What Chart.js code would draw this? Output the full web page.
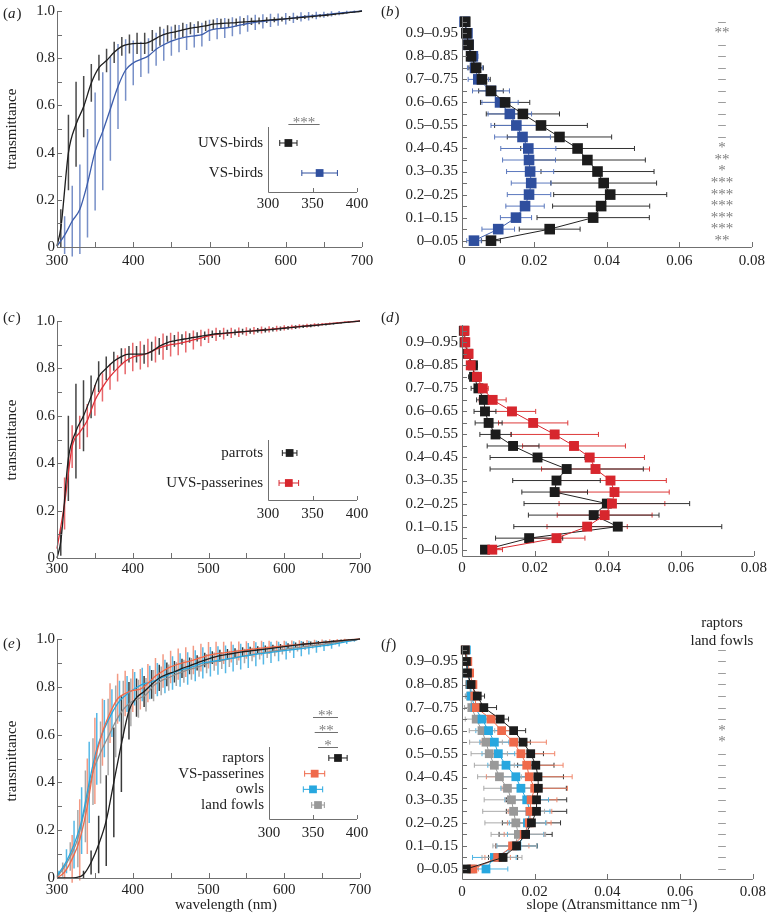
<!DOCTYPE html>
<html>
<head>
<meta charset="utf-8">
<script src="https://cdn.jsdelivr.net/npm/chart.js"></script>
<style>
  body { margin: 0; background: #fff; }
  #wrap { position: relative; width: 770px; height: 913px; }
  #wrap canvas { position: absolute; left: 0; top: 0; }
</style>
</head>
<body>
<div id="wrap">
  <canvas id="pa" width="770" height="913"></canvas>
  <canvas id="pai" width="770" height="913"></canvas>
  <canvas id="pb" width="770" height="913"></canvas>
  <canvas id="pc" width="770" height="913"></canvas>
  <canvas id="pci" width="770" height="913"></canvas>
  <canvas id="pd" width="770" height="913"></canvas>
  <canvas id="pe" width="770" height="913"></canvas>
  <canvas id="pei" width="770" height="913"></canvas>
  <canvas id="pf" width="770" height="913"></canvas>
</div>
<script>
// ---- data ----
// wavelength samples (nm); groups are sampled on shifted grids so their bars interleave
const wl10 = [300,310,320,330,340,350,360,370,380,390,400,410,420,430,440,450,460,470,480,490,500,510,520,530,540,550,560,570,580,590,600,610,620,630,640,650,660,670,680,690,700];
const wl05 = [300,305,315,325,335,345,355,365,375,385,395,405,415,425,435,445,455,465,475,485,495,505,515,525,535,545,555,565,575,585,595,605,615,625,635,645,655,665,675,685,695,700];
const wl02 = [300,302.5,312.5,322.5,332.5,342.5,352.5,362.5,372.5,382.5,392.5,402.5,412.5,422.5,432.5,442.5,452.5,462.5,472.5,482.5,492.5,502.5,512.5,522.5,532.5,542.5,552.5,562.5,572.5,582.5,592.5,602.5,612.5,622.5,632.5,642.5,652.5,662.5,672.5,682.5,692.5,700];
const wl07 = [300,307.5,317.5,327.5,337.5,347.5,357.5,367.5,377.5,387.5,397.5,407.5,417.5,427.5,437.5,447.5,457.5,467.5,477.5,487.5,497.5,507.5,517.5,527.5,537.5,547.5,557.5,567.5,577.5,587.5,597.5,607.5,617.5,627.5,637.5,647.5,657.5,667.5,677.5,687.5,697.5,700];

// (a) transmittance, mean and sd
const aUVS = [0.005,0.08,0.40,0.52,0.595,0.695,0.76,0.79,0.825,0.85,0.86,0.863,0.863,0.875,0.893,0.905,0.912,0.92,0.927,0.932,0.937,0.944,0.947,0.949,0.951,0.954,0.956,0.958,0.961,0.963,0.966,0.969,0.971,0.974,0.977,0.980,0.983,0.987,0.990,0.994,0.997,1.0];
const aUVSsd = [0,0.08,0.16,0.18,0.13,0.08,0.055,0.05,0.045,0.04,0.04,0.045,0.045,0.045,0.04,0.035,0.03,0.03,0.025,0.025,0.022,0.02,0.02,0.018,0.017,0.016,0.015,0.014,0.012,0.011,0.01,0.01,0.009,0.008,0.008,0.007,0.006,0.005,0.004,0.003,0.002,0];
const aVS = [0.003,0.05,0.11,0.16,0.27,0.405,0.49,0.585,0.68,0.75,0.78,0.795,0.81,0.838,0.857,0.872,0.883,0.89,0.895,0.9,0.918,0.925,0.928,0.933,0.94,0.947,0.952,0.956,0.96,0.963,0.967,0.971,0.975,0.978,0.981,0.984,0.988,0.991,0.994,0.997,1.0];
const aVSsd = [0,0.08,0.15,0.19,0.23,0.25,0.25,0.22,0.18,0.13,0.095,0.075,0.075,0.07,0.068,0.062,0.058,0.055,0.05,0.05,0.045,0.045,0.042,0.04,0.038,0.035,0.032,0.03,0.028,0.026,0.024,0.022,0.02,0.018,0.016,0.013,0.011,0.009,0.007,0.005,0];

// (c)
const cPar = [0.0,0.07,0.42,0.535,0.6,0.68,0.765,0.8,0.83,0.85,0.86,0.86,0.86,0.872,0.893,0.908,0.916,0.922,0.928,0.933,0.938,0.944,0.947,0.95,0.952,0.955,0.957,0.96,0.962,0.965,0.968,0.971,0.974,0.977,0.98,0.983,0.986,0.989,0.992,0.995,0.998,1.0];
const cParSd = [0,0.06,0.18,0.2,0.15,0.09,0.065,0.05,0.04,0.035,0.035,0.035,0.04,0.04,0.035,0.03,0.025,0.022,0.02,0.02,0.018,0.016,0.014,0.013,0.012,0.012,0.011,0.01,0.01,0.009,0.009,0.008,0.008,0.007,0.006,0.006,0.005,0.004,0.003,0.003,0.002,0];
const cUVSp = [0.04,0.23,0.47,0.53,0.58,0.665,0.72,0.765,0.8,0.83,0.848,0.855,0.865,0.88,0.892,0.9,0.905,0.912,0.92,0.928,0.937,0.944,0.947,0.95,0.953,0.956,0.959,0.962,0.965,0.968,0.971,0.974,0.977,0.98,0.983,0.986,0.989,0.992,0.995,0.997,1.0];
const cUVSpSd = [0,0.11,0.09,0.07,0.07,0.065,0.06,0.055,0.055,0.055,0.06,0.06,0.06,0.055,0.055,0.05,0.05,0.045,0.04,0.035,0.03,0.028,0.025,0.022,0.02,0.018,0.016,0.015,0.013,0.012,0.011,0.01,0.009,0.008,0.007,0.006,0.005,0.004,0.003,0.002,0];

// (e)
const eRap = [0,0,0,0.002,0.015,0.065,0.14,0.24,0.4,0.56,0.7,0.755,0.78,0.81,0.837,0.852,0.863,0.877,0.888,0.9,0.912,0.922,0.93,0.936,0.941,0.946,0.95,0.954,0.958,0.962,0.966,0.97,0.974,0.978,0.981,0.984,0.987,0.99,0.993,0.996,0.998,1.0];
const eRapSd = [0,0,0,0.002,0.015,0.05,0.12,0.19,0.23,0.2,0.12,0.08,0.065,0.06,0.055,0.05,0.045,0.04,0.035,0.032,0.03,0.027,0.025,0.022,0.02,0.019,0.018,0.016,0.015,0.014,0.013,0.012,0.011,0.01,0.009,0.008,0.007,0.006,0.005,0.004,0.002,0];
const eVSp = [0,0.025,0.08,0.16,0.3,0.49,0.61,0.69,0.75,0.772,0.785,0.79,0.815,0.845,0.866,0.883,0.895,0.903,0.912,0.922,0.932,0.938,0.942,0.946,0.95,0.954,0.958,0.962,0.965,0.968,0.971,0.974,0.977,0.98,0.983,0.986,0.989,0.992,0.995,0.997,1.0];
const eVSpSd = [0,0.03,0.1,0.17,0.2,0.18,0.14,0.125,0.105,0.095,0.09,0.085,0.08,0.075,0.07,0.068,0.065,0.062,0.06,0.058,0.055,0.05,0.047,0.044,0.04,0.037,0.034,0.031,0.028,0.025,0.022,0.02,0.018,0.016,0.014,0.012,0.01,0.008,0.006,0.004,0];
const eOwl = [0.01,0.02,0.07,0.14,0.24,0.4,0.54,0.625,0.69,0.74,0.77,0.792,0.81,0.818,0.83,0.843,0.858,0.87,0.877,0.888,0.9,0.905,0.91,0.915,0.92,0.926,0.931,0.936,0.94,0.944,0.948,0.952,0.956,0.96,0.964,0.968,0.972,0.977,0.983,0.989,0.995,1.0];
const eOwlSd = [0,0.01,0.05,0.1,0.14,0.17,0.15,0.12,0.1,0.085,0.075,0.07,0.07,0.07,0.07,0.07,0.07,0.07,0.068,0.065,0.065,0.062,0.06,0.058,0.056,0.054,0.052,0.05,0.047,0.044,0.041,0.038,0.035,0.032,0.029,0.026,0.022,0.018,0.014,0.01,0.006,0];
const eFowl = [0.005,0.035,0.09,0.165,0.3,0.445,0.525,0.59,0.655,0.705,0.735,0.75,0.767,0.805,0.825,0.838,0.853,0.865,0.875,0.884,0.897,0.905,0.91,0.917,0.923,0.929,0.935,0.94,0.945,0.95,0.955,0.96,0.964,0.968,0.972,0.976,0.98,0.985,0.99,0.994,0.998,1.0];
const eFowlSd = [0,0.03,0.06,0.12,0.15,0.14,0.13,0.16,0.15,0.12,0.1,0.08,0.07,0.065,0.06,0.055,0.05,0.048,0.045,0.042,0.04,0.038,0.036,0.034,0.032,0.03,0.028,0.026,0.024,0.022,0.02,0.018,0.016,0.014,0.012,0.011,0.01,0.008,0.006,0.004,0.002,0];

// transmittance bins for the slope panels, bottom to top
const bins = ['0–0.05','0.05–0.1','0.1–0.15','0.15–0.2','0.2–0.25','0.25–0.3','0.3–0.35','0.35–0.4','0.4–0.45','0.45–0.5','0.5–0.55','0.55–0.6','0.6–0.65','0.65–0.7','0.7–0.75','0.75–0.8','0.8–0.85','0.85–0.9','0.9–0.95','0.95–1'];

// (b) slope per bin
const bUVS = [0.008,0.0242,0.0362,0.0384,0.0409,0.0391,0.0374,0.0346,0.0319,0.0269,0.0218,0.0168,0.0119,0.008,0.0055,0.0039,0.0025,0.0018,0.0012,0.0009];
const bUVSerr = [0.0026,0.0084,0.0155,0.0134,0.0156,0.0146,0.0156,0.016,0.0157,0.0144,0.0128,0.0101,0.0068,0.0034,0.0023,0.002,0.001,0.0008,0.0005,0.0003];
const bVS = [0.0033,0.01,0.0149,0.0174,0.0185,0.0191,0.0188,0.0185,0.0183,0.0167,0.015,0.0132,0.0105,0.008,0.0045,0.0036,0.003,0.0018,0.0015,0.0007];
const bVSerr = [0.002,0.0045,0.0043,0.0053,0.006,0.0055,0.0065,0.0073,0.0076,0.0077,0.007,0.006,0.005,0.0051,0.0028,0.0021,0.0014,0.0008,0.0005,0.0003];
const bSig = ['**','***','***','***','***','***','*','**','*','–','–','–','–','–','–','–','–','–','**','–'];

// (d)
const dUVSp = [0.0083,0.0259,0.0343,0.0391,0.0411,0.0418,0.0407,0.0366,0.035,0.0307,0.0254,0.0195,0.0137,0.0084,0.0057,0.0041,0.0024,0.0018,0.0009,0.0007];
const dUVSpErr = [0.0028,0.0078,0.011,0.013,0.0145,0.015,0.0153,0.0148,0.015,0.0141,0.012,0.0095,0.0065,0.0037,0.0015,0.0012,0.0008,0.0006,0.0004,0.0003];
const dPar = [0.0063,0.0184,0.0427,0.0361,0.0397,0.0254,0.0259,0.0287,0.0207,0.014,0.0092,0.0073,0.0063,0.006,0.0045,0.0033,0.003,0.0016,0.0007,0.0005];
const dParErr = [0.001,0.0092,0.0285,0.0179,0.0227,0.009,0.012,0.021,0.013,0.0071,0.0043,0.0037,0.003,0.002,0.002,0.0015,0.0012,0.0005,0.0003,0.0002];

// (f)
const fRap = [0.0012,0.0113,0.015,0.0175,0.0191,0.0205,0.0205,0.021,0.0209,0.0203,0.0189,0.0168,0.0142,0.0105,0.006,0.0042,0.0025,0.0015,0.0012,0.0009];
const fRapErr = [0.001,0.004,0.0057,0.0073,0.008,0.0083,0.0083,0.0077,0.007,0.005,0.0035,0.002,0.0033,0.0023,0.0035,0.002,0.001,0.0004,0.0003,0.0002];
const fVSp = [0.003,0.0098,0.0139,0.0171,0.0185,0.0187,0.019,0.02,0.0185,0.0178,0.0162,0.0142,0.0109,0.008,0.0039,0.0035,0.003,0.0021,0.0016,0.0009];
const fVSpErr = [0.0015,0.0035,0.0045,0.0055,0.006,0.006,0.0071,0.009,0.0118,0.01,0.0093,0.009,0.004,0.003,0.002,0.0015,0.001,0.0005,0.0003,0.0002];
const fOwl = [0.0066,0.0089,0.0151,0.0175,0.018,0.0187,0.0178,0.0162,0.0148,0.0121,0.01,0.0089,0.0073,0.0055,0.0036,0.0025,0.0024,0.0016,0.0015,0.0012];
const fOwlErr = [0.006,0.006,0.0055,0.005,0.005,0.0055,0.006,0.0055,0.005,0.005,0.0045,0.004,0.0035,0.0025,0.0018,0.0015,0.0008,0.0004,0.0003,0.0002];
const fFowl = [0.0025,0.011,0.0145,0.0155,0.0148,0.0142,0.0136,0.0125,0.0103,0.0089,0.0075,0.0066,0.0055,0.0039,0.0027,0.0024,0.0021,0.0015,0.0012,0.0009];
const fFowlErr = [0.0015,0.0055,0.006,0.0075,0.0085,0.0085,0.0075,0.0065,0.006,0.0055,0.005,0.0045,0.0035,0.003,0.002,0.0015,0.001,0.0005,0.0003,0.0002];
const fSig = ['–','–','–','–','–','–','–','–','–','–','–','*','*','–','–','–','–','–','–','–'];

// insets: wavelength at 50% transmittance (nm), listed top to bottom
const insA = ['UVS-birds', 'VS-birds'];
const insAmean = [322.9, 358.0];
const insAerr = [9.7, 20.0];
const insC = ['parrots', 'UVS-passerines'];
const insCmean = [324.3, 323.4];
const insCerr = [8.2, 11.0];
const insE = ['raptors', 'VS-passerines', 'owls', 'land fowls'];
const insEmean = [378.4, 351.9, 350.0, 355.7];
const insEerr = [10.4, 11.4, 11.0, 7.2];

// tick labels
const transTicks = [0, 0.2, 0.4, 0.6, 0.8, 1.0];
const transLabels = ['0', '0.2', '0.4', '0.6', '0.8', '1.0'];
const wlTicks = [300, 400, 500, 600, 700];
const slopeTicks = [0, 0.02, 0.04, 0.06, 0.08];
const slopeLabels = ['0', '0.02', '0.04', '0.06', '0.08'];
const insetTicks = [300, 350, 400];

// ---- drawing ----
const W = 770, H = 913;
const SERIF = '"Liberation Serif", "DejaVu Serif", serif';
const AXIS = '#707070';
const INK = '#222';
const SIG = '#7d7d7d';
Chart.defaults.font.family = SERIF;
Chart.defaults.font.size = 15;
Chart.defaults.color = INK;

function near(list, v) {
  return list.findIndex(t => Math.abs(t - v) < 1e-6);
}

// axis lines plus short inward tick marks
function frame(xt, yt) {
  return {
    id: 'frame',
    afterDatasetsDraw(chart) {
      const { ctx, chartArea: ca, scales: { x, y } } = chart;
      ctx.save();
      ctx.strokeStyle = AXIS;
      ctx.lineWidth = 1;
      ctx.beginPath();
      ctx.moveTo(ca.left + 0.5, ca.top);
      ctx.lineTo(ca.left + 0.5, ca.bottom + 0.5);
      ctx.lineTo(ca.right, ca.bottom + 0.5);
      if (xt) x.ticks.forEach(t => {
        const p = Math.round(x.getPixelForValue(t.value)) + 0.5;
        ctx.moveTo(p, ca.bottom);
        ctx.lineTo(p, ca.bottom - xt);
      });
      if (yt) y.ticks.forEach(t => {
        const p = Math.round(y.getPixelForValue(t.value)) + 0.5;
        ctx.moveTo(ca.left, p);
        ctx.lineTo(ca.left + yt, p);
      });
      ctx.stroke();
      ctx.restore();
    }
  };
}

// error bars from ds.err, along the x or y axis
function errBars(dir, cap) {
  return {
    id: 'errBars',
    beforeDatasetsDraw(chart) {
      const ctx = chart.ctx;
      const sc = chart.scales[dir];
      chart.data.datasets.forEach((ds, di) => {
        if (!ds.err) return;
        const pts = chart.getDatasetMeta(di).data;
        ctx.save();
        ctx.strokeStyle = ds.errColor;
        ctx.lineWidth = ds.errWidth || 1;
        ctx.beginPath();
        ds.data.forEach((d, i) => {
          const e = ds.err[i];
          if (!e) return;
          const a = sc.getPixelForValue(d[dir] - e), b = sc.getPixelForValue(d[dir] + e);
          const p = pts[i];
          if (dir === 'x') {
            ctx.moveTo(a, p.y); ctx.lineTo(b, p.y);
            if (cap) {
              ctx.moveTo(a, p.y - cap); ctx.lineTo(a, p.y + cap);
              ctx.moveTo(b, p.y - cap); ctx.lineTo(b, p.y + cap);
            }
          } else {
            ctx.moveTo(p.x, a); ctx.lineTo(p.x, b);
          }
        });
        ctx.stroke();
        ctx.restore();
      });
    }
  };
}

// free text: panel letters, axis titles, significance columns
function notes(items) {
  return {
    id: 'notes',
    afterDraw(chart) {
      const ctx = chart.ctx;
      items.forEach(it => {
        const y = it.row !== undefined ? chart.scales.y.getPixelForValue(it.row) : it.y;
        ctx.save();
        ctx.fillStyle = it.color || INK;
        ctx.textBaseline = 'middle';
        if (it.parts) {
          let cx = it.x;
          ctx.textAlign = 'left';
          it.parts.forEach(([s, ital]) => {
            ctx.font = (ital ? 'italic ' : '') + '15px ' + SERIF;
            ctx.fillText(s, cx, y);
            cx += ctx.measureText(s).width + (ital ? 1 : 0);
          });
        } else {
          ctx.font = '15px ' + SERIF;
          ctx.textAlign = it.align || 'center';
          ctx.translate(it.x, y);
          if (it.rot) ctx.rotate(it.rot);
          ctx.fillText(it.t, 0, 0);
        }
        ctx.restore();
      });
    }
  };
}

function sigLines(list, means) {
  return {
    id: 'sig',
    afterDraw(chart) {
      const { ctx, scales: { x, y } } = chart;
      ctx.save();
      ctx.strokeStyle = AXIS;
      ctx.fillStyle = SIG;
      ctx.lineWidth = 1;
      ctx.font = '15px ' + SERIF;
      ctx.textAlign = 'center';
      ctx.textBaseline = 'alphabetic';
      list.forEach(s => {
        const x1 = x.getPixelForValue(means[s.a]), x2 = x.getPixelForValue(means[s.b]);
        const py = Math.round(y.getPixelForValue(s.lvl)) + 0.5;
        ctx.beginPath(); ctx.moveTo(x1, py); ctx.lineTo(x2, py); ctx.stroke();
        ctx.fillText(s.t, (x1 + x2) / 2, py + 2);
      });
      ctx.restore();
    }
  };
}

const panel = (letter, x, y) => ({ parts: [['(', false], [letter, true], [')', false]], x, y });
const noGrid = { display: false, drawTicks: false };

function base(area) {
  return {
    responsive: false, animation: false, devicePixelRatio: 1,
    layout: { padding: { left: 0, top: area.t, right: W - area.r, bottom: 0 } },
    plugins: { legend: { display: false }, tooltip: { enabled: false } }
  };
}

function curveChart(id, area, series, texts) {
  const opts = base(area);
  opts.scales = {
    x: {
      type: 'linear', min: 300, max: 700,
      grid: noGrid, border: { display: false },
      ticks: { stepSize: 50, autoSkip: false, maxRotation: 0, padding: area.xpad,
               callback: v => near(wlTicks, v) < 0 ? '' : String(v) },
      afterFit: s => { s.height = H - area.b; }
    },
    y: {
      type: 'linear', min: 0, max: 1,
      grid: noGrid, border: { display: false },
      ticks: { stepSize: 0.1, autoSkip: false, padding: 2,
               callback: v => { const i = near(transTicks, v); return i < 0 ? '' : transLabels[i]; } },
      afterFit: s => { s.width = area.l; }
    }
  };
  return new Chart(document.getElementById(id), {
    type: 'line',
    data: { datasets: series.map(s => ({
      data: s.wl.map((w, i) => ({ x: w, y: s.val[i] })),
      err: s.sd, errColor: s.bar, errWidth: 1.5,
      borderColor: s.color, borderWidth: 1.3, pointRadius: 0,
      cubicInterpolationMode: 'monotone', clip: false
    })) },
    options: opts,
    plugins: [errBars('y', 0), frame(5, 5), notes(texts)]
  });
}

function slopeChart(id, area, series, texts) {
  const opts = base(area);
  opts.scales = {
    x: {
      type: 'linear', min: 0, max: 0.08,
      grid: noGrid, border: { display: false },
      ticks: { stepSize: 0.02, autoSkip: false, maxRotation: 0, padding: area.xpad,
               callback: v => { const i = near(slopeTicks, v); return i < 0 ? '' : slopeLabels[i]; } },
      afterFit: s => { s.height = H - area.b; }
    },
    y: {
      type: 'linear', min: area.ymin, max: area.ymax,
      grid: noGrid, border: { display: false },
      afterBuildTicks: s => { s.ticks = bins.map((b, i) => ({ value: i })); },
      ticks: { autoSkip: false, padding: 4, callback: v => (v % 2 === 0 ? bins[v] : '') },
      afterFit: s => { s.width = area.l; }
    }
  };
  return new Chart(document.getElementById(id), {
    type: 'line',
    data: { datasets: series.map(s => ({
      data: s.val.map((v, i) => ({ x: v, y: i })),
      err: s.err, errColor: s.bar, errWidth: 1,
      borderColor: s.line, borderWidth: 1, backgroundColor: s.color,
      pointStyle: 'rect', pointRadius: area.pr, pointBorderWidth: 0,
      pointBackgroundColor: s.color, tension: 0, clip: false
    })) },
    options: opts,
    plugins: [errBars('x', 2.5), frame(5, 5), notes(texts)]
  });
}

function insetChart(id, area, groups, means, errs, colors, sig) {
  const n = groups.length;
  const opts = base(area);
  opts.scales = {
    x: {
      type: 'linear', min: 300, max: 400,
      grid: noGrid, border: { display: false },
      ticks: { stepSize: 50, autoSkip: false, maxRotation: 0, padding: area.xpad,
               callback: v => near(insetTicks, v) < 0 ? '' : String(v) },
      afterFit: s => { s.height = H - area.b; }
    },
    y: {
      type: 'linear', min: area.ymin, max: area.ymax,
      grid: noGrid, border: { display: false },
      afterBuildTicks: s => { s.ticks = groups.map((g, j) => ({ value: n - 1 - j })); },
      ticks: { autoSkip: false, padding: 5, callback: v => groups[n - 1 - v] },
      afterFit: s => { s.width = area.l; }
    }
  };
  return new Chart(document.getElementById(id), {
    type: 'line',
    data: { datasets: groups.map((g, j) => ({
      data: [{ x: means[j], y: n - 1 - j }],
      err: [errs[j]], errColor: colors[j], errWidth: 1,
      showLine: false, pointStyle: 'rect', pointRadius: 5.5, pointBorderWidth: 0,
      pointBackgroundColor: colors[j], clip: false
    })) },
    options: opts,
    plugins: [errBars('x', 3), frame(4, 0), sigLines(sig, means)]
  });
}

const ROT = -Math.PI / 2;

// (a)
curveChart('pa', { l: 57, r: 362, t: 11, b: 247, xpad: 5 }, [
  { wl: wl05, val: aUVS, sd: aUVSsd, color: '#1e1e1e', bar: '#4a4a4a' },
  { wl: wl10, val: aVS, sd: aVSsd, color: '#3d5dab', bar: '#7890c8' }
], [panel('a', 3, 14), { t: 'transmittance', x: 12, y: 129, rot: ROT }]);

insetChart('pai', { l: 268, r: 357, t: 127, b: 192, ymin: -0.633, ymax: 1.533, xpad: 3 },
  insA, insAmean, insAerr, ['#1e1e1e', '#2f4f9e'],
  [{ a: 0, b: 1, lvl: 1.63, t: '***' }]);

// (b)
slopeChart('pb', { l: 462, r: 756, t: 16, b: 247, ymin: -0.55, ymax: 19.5, pr: 7.5, xpad: 5 }, [
  { val: bUVS, err: bUVSerr, color: '#1c1c1c', line: '#222', bar: '#333' },
  { val: bVS, err: bVSerr, color: '#2f4f9e', line: '#3d5dab', bar: '#5b78bd' }
], [panel('b', 381, 12)].concat(bSig.map((t, i) => ({ t, x: 722, row: i, color: SIG }))));

// (c)
curveChart('pc', { l: 57, r: 360, t: 321, b: 558, xpad: 2 }, [
  { wl: wl05, val: cPar, sd: cParSd, color: '#1e1e1e', bar: '#444' },
  { wl: wl10, val: cUVSp, sd: cUVSpSd, color: '#de3038', bar: '#e8676b' }
], [panel('c', 3, 318), { t: 'transmittance', x: 12, y: 440, rot: ROT }]);

insetChart('pci', { l: 268, r: 357, t: 440, b: 500, ymin: -0.567, ymax: 1.433, xpad: 5 },
  insC, insCmean, insCerr, ['#1e1e1e', '#d7262d'], []);

// (d)
slopeChart('pd', { l: 462, r: 756, t: 325, b: 556, ymin: -0.55, ymax: 19.5, pr: 7, xpad: 3 }, [
  { val: dUVSp, err: dUVSpErr, color: '#d7262d', line: '#d8262d', bar: '#dd3a3a' },
  { val: dPar, err: dParErr, color: '#1c1c1c', line: '#222', bar: '#333' }
], [panel('d', 381, 318)]);

// (e)
curveChart('pe', { l: 57, r: 360, t: 639, b: 878, xpad: 3 }, [
  { wl: wl05, val: eRap, sd: eRapSd, color: '#1e1e1e', bar: '#3a3a3a' },
  { wl: wl10, val: eVSp, sd: eVSpSd, color: '#ef6a4b', bar: '#f39a84' },
  { wl: wl02, val: eOwl, sd: eOwlSd, color: '#2aa6dc', bar: '#55b8e6' },
  { wl: wl07, val: eFowl, sd: eFowlSd, color: '#8e8e8e', bar: '#a9a9a9' }
], [panel('e', 3, 644), { t: 'transmittance', x: 12, y: 761, rot: ROT },
    { t: 'wavelength (nm)', x: 226, y: 905 }]);

insetChart('pei', { l: 269, r: 357, t: 747, b: 819, ymin: -0.89, ymax: 3.7, xpad: 5 },
  insE, insEmean, insEerr, ['#1c1c1c', '#ef6a4b', '#27a7df', '#999'],
  [{ a: 2, b: 0, lvl: 5.62, t: '**' }, { a: 1, b: 0, lvl: 4.66, t: '**' }, { a: 3, b: 0, lvl: 3.7, t: '*' }]);

// (f)
slopeChart('pf', { l: 462, r: 756, t: 645, b: 879, ymin: -0.87, ymax: 19.43, pr: 6.2, xpad: 4 }, [
  { val: fRap, err: fRapErr, color: '#1c1c1c', line: '#222', bar: '#333' },
  { val: fVSp, err: fVSpErr, color: '#ef6a4b', line: '#ef6a4b', bar: '#f0866a' },
  { val: fOwl, err: fOwlErr, color: '#27a7df', line: '#27a7df', bar: '#4cb4e4' },
  { val: fFowl, err: fFowlErr, color: '#999', line: '#999', bar: '#aaa' }
], [panel('f', 381, 645), { t: 'raptors', x: 722, y: 623 }, { t: 'land fowls', x: 722, y: 641 },
    { t: 'slope (Δtransmittance nm⁻¹)', x: 612, y: 905 }]
  .concat(fSig.map((t, i) => ({ t, x: 722, row: i, color: SIG }))));
</script>
</body>
</html>
